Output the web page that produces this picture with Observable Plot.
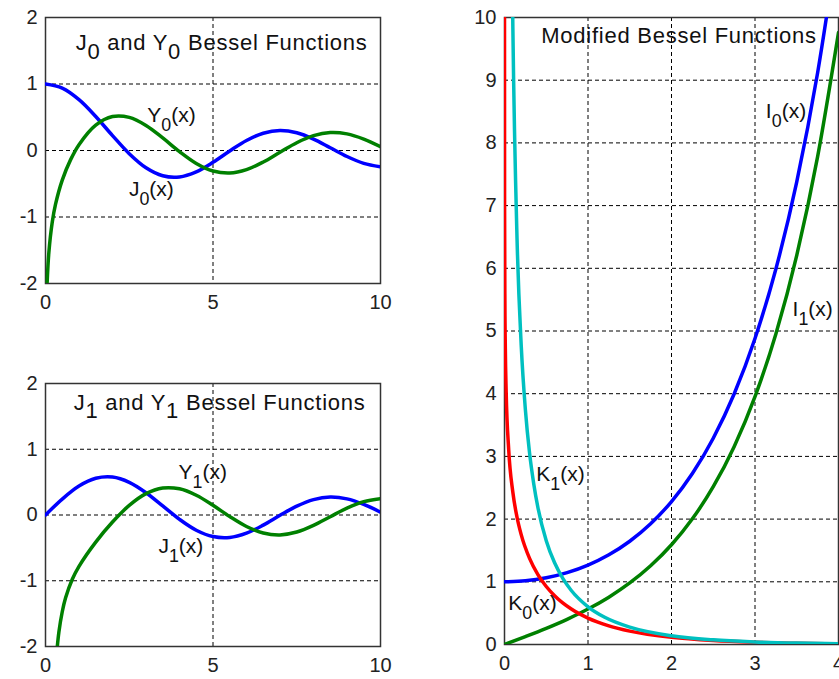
<!DOCTYPE html>
<html><head><meta charset="utf-8">
<script src="https://cdn.jsdelivr.net/npm/d3@7"></script>
<script src="https://cdn.jsdelivr.net/npm/@observablehq/plot@0.6"></script>
<style>
body{margin:0;background:#fff;}
#wrap{position:relative;width:839px;height:679px;overflow:hidden;background:#fff;}
</style></head><body><div id="wrap"></div>
<script>
// ---- Panel 1: J0 and Y0 ----
const xJ = [0,0.5,1,1.5,2,2.5,3,3.5,4,4.5,5,5.5,6,6.5,7,7.5,8,8.5,9,9.5,10];
const J0 = [1,0.9385,0.7652,0.5118,0.2239,-0.0484,-0.2601,-0.3801,-0.3971,-0.3205,-0.1776,-0.0068,0.1506,0.2601,0.3001,0.2663,0.1717,0.0419,-0.0903,-0.1939,-0.2459];
const xY0 = [0.05,0.1,0.2,0.3,0.5,0.75,1,1.5,2,2.5,3,3.5,4,4.5,5,5.5,6,6.5,7,7.5,8,8.5,9,9.5,10];
const Y0 = [-1.979,-1.5342,-1.0811,-0.8073,-0.4445,-0.1372,0.0883,0.3824,0.5104,0.4981,0.3769,0.1890,-0.0169,-0.1947,-0.3085,-0.3395,-0.2882,-0.1732,-0.0259,0.1173,0.2235,0.2702,0.2499,0.1712,0.0557];
// ---- Panel 2: J1 and Y1 ----
const J1 = [0,0.2423,0.4401,0.5579,0.5767,0.4971,0.3391,0.1374,-0.0660,-0.2311,-0.3276,-0.3414,-0.2767,-0.1538,-0.0047,0.1352,0.2346,0.2731,0.2453,0.1613,0.0435];
const xY1 = [0.3,0.4,0.5,0.6,0.8,1,1.5,2,2.5,3,3.5,4,4.5,5,5.5,6,6.5,7,7.5,8,8.5,9,9.5,10];
const Y1 = [-2.2931,-1.7809,-1.4715,-1.2604,-0.9781,-0.7812,-0.4123,-0.1070,0.1459,0.3247,0.4102,0.3979,0.3010,0.1479,-0.0238,-0.1750,-0.2741,-0.3027,-0.2591,-0.1581,-0.0262,0.1043,0.2030,0.2490];
// ---- Panel 3: modified Bessel functions ----
const xI = [0,0.25,0.5,0.75,1,1.25,1.5,1.75,2,2.25,2.5,2.75,3,3.25,3.5,3.75,4];
const I0 = [1,1.0157,1.0635,1.1456,1.2661,1.4305,1.6467,1.9253,2.2796,2.7271,3.2898,3.9959,4.8808,5.9893,7.3782,9.1189,11.3019];
const I1 = [0,0.1260,0.2579,0.4020,0.5652,0.7553,0.9817,1.2555,1.5906,2.0040,2.5167,3.1554,3.9534,4.9525,6.2058,7.7800,9.7595];
const xK0 = [0.00005,0.001,0.005,0.01,0.02,0.05,0.1,0.15,0.2,0.3,0.4,0.5,0.6,0.8,1,1.25,1.5,2,2.5,3,3.5,4];
const K0 = [10.02,7.0237,5.4143,4.7212,4.0285,3.1142,2.4271,2.0300,1.7527,1.3725,1.1145,0.9244,0.7775,0.5653,0.4210,0.2980,0.2138,0.1139,0.0623,0.0347,0.0196,0.0112];
const xK1 = [0.09,0.1,0.15,0.2,0.25,0.3,0.35,0.4,0.5,0.6,0.7,0.8,1,1.2,1.5,2,2.5,3,3.5,4];
const K1 = [10.975,9.8538,6.477,4.7760,3.747,3.0560,2.565,2.1844,1.6564,1.3028,1.0503,0.8618,0.6019,0.4346,0.2774,0.1399,0.0739,0.0402,0.0222,0.0125];

// ticks & grids
const xTicksJ = [0,5,10], yTicksJ = [-2,-1,0,1,2];
const xGridJ = [5], yGridJ = [-1,0,1];
const xTicksM = [0,1,2,3,4], yTicksM = [0,1,2,3,4,5,6,7,8,9,10];
const xGridM = [1,2,3], yGridM = [1,2,3,4,5,6,7,8,9];

// annotations
const labelsA = ["J_0 and Y_0 Bessel Functions","Y_0(x)","J_0(x)"];
const labelsAx = [0.9,3.04,2.49], labelsAy = [1.62,0.53,-0.59];
const labelsB = ["J_1 and Y_1 Bessel Functions","Y_1(x)","J_1(x)"];
const labelsBx = [0.84,3.97,3.37], labelsBy = [1.71,0.65,-0.47];
const labelsC = ["Modified Bessel Functions","I_0(x)","I_1(x)","K_1(x)","K_0(x)"];
const labelsCx = [0.44,3.13,3.45,0.38,0.045], labelsCy = [9.70,8.50,5.34,2.72,0.65];

const BLUE="#0000ff", GREEN="#008000", RED="#ff0000", CYAN="#00c0c0";
const FONT = "'Liberation Sans', Arial, Helvetica, sans-serif";

function pairs(xs, ys){ return xs.map((x,i)=>[x, ys[i]]); }

function subscripts(svg){
  d3.select(svg).selectAll('g[aria-label="text"] text').each(function(){
    const t = this.textContent;
    const isTitle = t.includes("Functions");
    if (isTitle) this.style.letterSpacing = "0.75px";
    if (!t.includes("_")) return;
    const parts = t.split(/_(.)/);
    this.textContent = "";
    let down = false;
    const drop = isTitle ? 0.4 : 0.5;
    parts.forEach((p,i)=>{
      if (p === "") return;
      const ts = document.createElementNS("http://www.w3.org/2000/svg","tspan");
      ts.textContent = p;
      if (i % 2 === 1){
        ts.setAttribute("dy", drop + "em");
        if (!isTitle) ts.setAttribute("font-size","0.85em");
        down = true;
      } else if (down){
        ts.setAttribute("dy", (isTitle ? -drop : -drop*0.85) + "em");
        down = false;
      }
      this.appendChild(ts);
    });
  });
}

function panel(o){
  const marks = [
    Plot.ruleX(o.xg, {stroke:"#000", strokeWidth:1, strokeDasharray:"4,3"}),
    Plot.ruleY(o.yg, {stroke:"#000", strokeWidth:1, strokeDasharray:"4,3"}),
    Plot.frame({stroke:"#333", strokeWidth:1.5}),
    ...o.series.map(([xs,ys,c]) => Plot.line(pairs(xs,ys), {stroke:c, strokeWidth:3.5, curve:o.curve, clip:true, strokeLinejoin:"round"})),
    Plot.axisX(o.xt, {tickSize:0, tickPadding:11, fontSize:20, label:null, tickFormat:d=>String(d)}),
    Plot.axisY(o.yt, {tickSize:0, tickPadding:8, fontSize:20, label:null, tickFormat:d=>String(d)}),
    Plot.text(o.labels, {x:o.lx, y:o.ly, text:d=>d, textAnchor:"start", fontSize:d=>d.includes("Functions")?22:21, fill:"#111"})
  ];
  const svg = Plot.plot({
    width:o.width, height:o.height,
    marginTop:o.mt, marginBottom:o.mb, marginLeft:o.ml, marginRight:o.mr,
    x:{domain:o.xdom}, y:{domain:o.ydom},
    style:{fontFamily:FONT, fontSize:"20px", color:"#222", background:"transparent", overflow:"visible"},
    marks
  });
  subscripts(svg);
  svg.style.position = "absolute";
  svg.style.left = o.left + "px";
  svg.style.top = o.top + "px";
  svg.style.maxWidth = "none";
  document.getElementById("wrap").appendChild(svg);
}

panel({left:0, top:0, width:400, height:320, mt:17, mb:37, ml:45, mr:20,
  xdom:[0,10], ydom:[-2,2], xt:xTicksJ, yt:yTicksJ, xg:xGridJ, yg:yGridJ, curve:"catmull-rom",
  series:[[xJ,J0,BLUE],[xY0,Y0,GREEN]], labels:labelsA, lx:labelsAx, ly:labelsAy});

panel({left:0, top:366, width:400, height:313, mt:17, mb:33, ml:45, mr:20,
  xdom:[0,10], ydom:[-2,2], xt:xTicksJ, yt:yTicksJ, xg:xGridJ, yg:yGridJ, curve:"catmull-rom",
  series:[[xJ,J1,BLUE],[xY1,Y1,GREEN]], labels:labelsB, lx:labelsBx, ly:labelsBy});

panel({left:459, top:0, width:400, height:679, mt:17, mb:35, ml:45, mr:21,
  xdom:[0,4], ydom:[0,10], xt:xTicksM, yt:yTicksM, xg:xGridM, yg:yGridM, curve:"monotone-x",
  series:[[xI,I0,BLUE],[xI,I1,GREEN],[xK0,K0,RED],[xK1,K1,CYAN]], labels:labelsC, lx:labelsCx, ly:labelsCy});
</script>
</body></html>
